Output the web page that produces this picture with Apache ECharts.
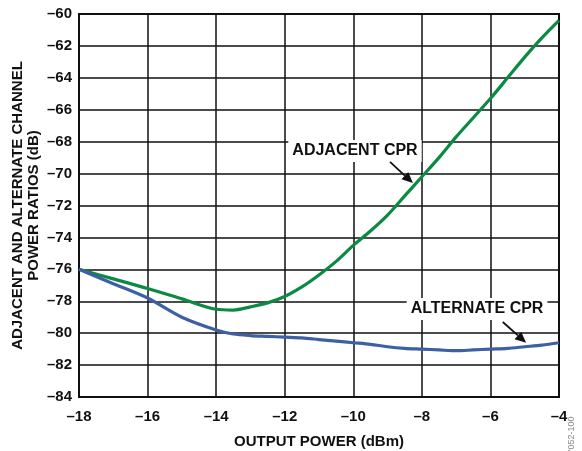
<!DOCTYPE html>
<html><head><meta charset="utf-8">
<script src="https://cdn.jsdelivr.net/npm/echarts@6/dist/echarts.min.js"></script>
<style>html,body{margin:0;padding:0;background:#fff}#c{width:582px;height:451px}</style>
</head><body><div id="c"></div>
<script>
const outputPower = [-18,-17,-16,-15,-14,-13.5,-13,-12.5,-12,-11.5,-11,-10.5,-10,-9.5,-9,-8.5,-8,-7.5,-7,-6.5,-6,-5.5,-5,-4.5,-4];
const adjacentCPR = [-76,-76.6,-77.2,-77.85,-78.5,-78.55,-78.35,-78.1,-77.7,-77.1,-76.35,-75.5,-74.5,-73.6,-72.6,-71.4,-70.2,-69,-67.7,-66.5,-65.3,-64.0,-62.7,-61.5,-60.4];
const alternateCPR = [-76,-76.9,-77.8,-79.0,-79.8,-80.05,-80.15,-80.2,-80.25,-80.3,-80.4,-80.5,-80.6,-80.7,-80.85,-80.95,-81.0,-81.05,-81.1,-81.05,-81.0,-80.95,-80.85,-80.75,-80.6];
const xTicks = {min:-18, max:-4, step:2};
const yTicks = {min:-84, max:-60, step:2};
const xTitle = 'OUTPUT POWER (dBm)';
const yTitle = 'ADJACENT AND ALTERNATE CHANNEL\nPOWER RATIOS (dB)';
const annotations = [
  {text:'ADJACENT CPR', at:[-9.95,-68.58], from:[-8.93,-69.27], to:[-8.26,-70.59]},
  {text:'ALTERNATE CPR', at:[-6.39,-78.48], from:[-5.64,-79.3], to:[-4.96,-80.6]}
];

const FONT = 'Liberation Sans, Arial, Helvetica, sans-serif';
const FS = 15;
const dash = v => String(v).replace('-', '\u2013');
const chart = echarts.init(document.getElementById('c'), null, {renderer:'canvas'});
const opt = {
  animation:false,
  backgroundColor:'#fff',
  grid:{left:79, right:23, top:14, bottom:54, containLabel:false, outerBoundsMode:'none',
    show:true, borderColor:'#111', borderWidth:2, backgroundColor:'transparent'},
  xAxis:{type:'value', min:xTicks.min, max:xTicks.max, interval:xTicks.step,
    name:xTitle, nameLocation:'middle', nameGap:37, nameMoveOverlap:false,
    nameTextStyle:{fontFamily:FONT, fontWeight:'bold', fontSize:FS, color:'#111'},
    axisLine:{show:false}, axisTick:{show:false},
    axisLabel:{formatter:dash, fontFamily:FONT, fontWeight:'bold', fontSize:FS, color:'#111', margin:12},
    splitLine:{show:true, lineStyle:{color:'#111', width:1.5}}},
  yAxis:{type:'value', min:yTicks.min, max:yTicks.max, interval:yTicks.step,
    name:yTitle, nameLocation:'middle', nameGap:37, nameMoveOverlap:false,
    nameTextStyle:{fontFamily:FONT, fontWeight:'bold', fontSize:FS, color:'#111', lineHeight:16},
    axisLine:{show:false}, axisTick:{show:false},
    axisLabel:{formatter:dash, fontFamily:FONT, fontWeight:'bold', fontSize:FS, color:'#111', margin:7},
    splitLine:{show:true, lineStyle:{color:'#111', width:1.5}}},
  series:[
    {type:'line', name:'ADJACENT CPR', data:outputPower.map((x,i)=>[x,adjacentCPR[i]]), smooth:0.3, showSymbol:false,
      lineStyle:{color:'#0b8a43', width:3.2}, z:3},
    {type:'line', name:'ALTERNATE CPR', data:outputPower.map((x,i)=>[x,alternateCPR[i]]), smooth:0.3, showSymbol:false,
      lineStyle:{color:'#3d5fa3', width:3.2}, z:3}
  ]
};
chart.setOption(opt);
const g = [];
annotations.forEach(a => {
  const c = chart.convertToPixel({gridIndex:0}, a.at);
  const p1 = chart.convertToPixel({gridIndex:0}, a.from);
  const p2 = chart.convertToPixel({gridIndex:0}, a.to);
  g.push({type:'text', x:c[0], y:c[1], z:10, style:{text:a.text, fill:'#111', font:'bold 16px '+FONT,
    align:'center', verticalAlign:'middle', backgroundColor:'#fff', padding:[3,4]}});
  const ang = Math.atan2(p2[1]-p1[1], p2[0]-p1[0]);
  const L = 11, W = 5;
  const bx = p2[0]-L*Math.cos(ang), by = p2[1]-L*Math.sin(ang);
  g.push({type:'line', z:10, shape:{x1:p1[0], y1:p1[1], x2:bx, y2:by}, style:{stroke:'#111', lineWidth:1.8}});
  g.push({type:'polygon', z:10, shape:{points:[[p2[0],p2[1]],[bx+W*Math.sin(ang), by-W*Math.cos(ang)],[bx-W*Math.sin(ang), by+W*Math.cos(ang)]]}, style:{fill:'#111'}});
});
g.push({type:'text', x:572, y:438, rotation:Math.PI/2, z:10, style:{text:'07052-100', fill:'#888', font:'9px '+FONT, align:'center', verticalAlign:'middle'}});
chart.setOption({graphic:g});
</script></body></html>
